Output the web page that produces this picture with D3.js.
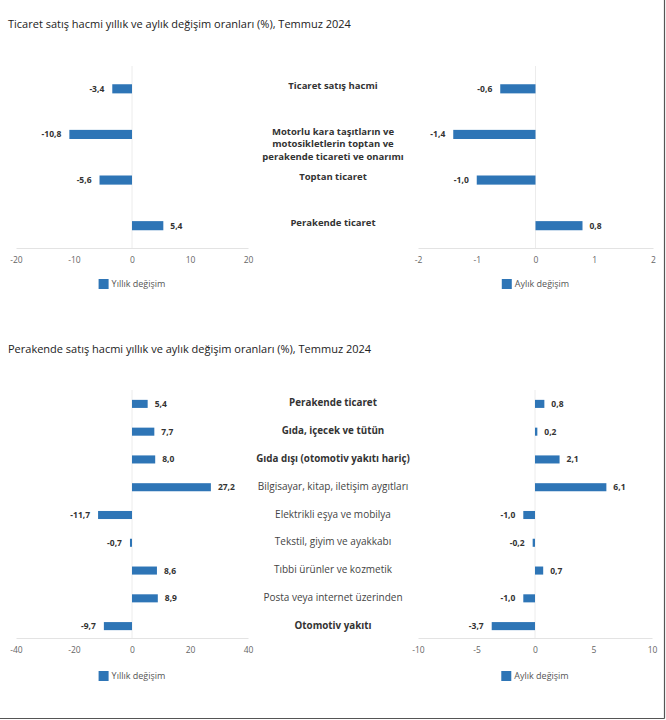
<!DOCTYPE html>
<html>
<head>
  <meta charset="utf-8">
  <title>Ticaret ve perakende satış hacmi</title>
  <script src="https://d3js.org/d3.v7.min.js"></script>
  <style>
    body { margin: 0; background: #fff; }
    svg { font-family: "Open Sans", "Noto Sans", sans-serif; display: block; }
  </style>
</head>
<body>
<div id="chart"></div>
<script>
// Chart data
var topTitle = "Ticaret satış hacmi yıllık ve aylık değişim oranları (%), Temmuz 2024";
var bottomTitle = "Perakende satış hacmi yıllık ve aylık değişim oranları (%), Temmuz 2024";

var topCategories = [
  "Ticaret satış hacmi",
  "Motorlu kara taşıtların ve|motosikletlerin toptan ve|perakende ticareti ve onarımı",
  "Toptan ticaret",
  "Perakende ticaret"
];
var topYearly = [-3.4, -10.8, -5.6, 5.4];
var topMonthly = [-0.6, -1.4, -1.0, 0.8];
var topYearlyTicks = [-20, -10, 0, 10, 20];
var topMonthlyTicks = [-2, -1, 0, 1, 2];

var bottomCategories = [
  "Perakende ticaret",
  "Gıda, içecek ve tütün",
  "Gıda dışı (otomotiv yakıtı hariç)",
  "Bilgisayar, kitap, iletişim aygıtları",
  "Elektrikli eşya ve mobilya",
  "Tekstil, giyim ve ayakkabı",
  "Tıbbi ürünler ve kozmetik",
  "Posta veya internet üzerinden",
  "Otomotiv yakıtı"
];
var bottomYearly = [5.4, 7.7, 8.0, 27.2, -11.7, -0.7, 8.6, 8.9, -9.7];
var bottomMonthly = [0.8, 0.2, 2.1, 6.1, -1.0, -0.2, 0.7, -1.0, -3.7];
var bottomYearlyTicks = [-40, -20, 0, 20, 40];
var bottomMonthlyTicks = [-10, -5, 0, 5, 10];
var bottomBoldCategories = ["Perakende ticaret", "Gıda, içecek ve tütün", "Gıda dışı (otomotiv yakıtı hariç)", "Otomotiv yakıtı"];

var legendYearly = "Yıllık değişim";
var legendMonthly = "Aylık değişim";

var barColor = "#2e75b6";
var fmt = function(v) { return d3.format(".1f")(v).replace(".", ",").replace("−", "-"); };

var width = 666, height = 720;
var svg = d3.select("#chart").append("svg")
  .attr("width", width)
  .attr("height", height);

// frame lines on the right and bottom edge
svg.append("line").attr("x1", 664.5).attr("x2", 664.5).attr("y1", 0).attr("y2", 718.5)
  .attr("stroke", "#555").attr("stroke-width", 1.2);
svg.append("line").attr("x1", 0).attr("x2", 664.5).attr("y1", 718.5).attr("y2", 718.5)
  .attr("stroke", "#555").attr("stroke-width", 1.2);

// titles
svg.append("text").attr("x", 8).attr("y", 28)
  .style("font-size", "11px").style("fill", "#222")
  .text(topTitle);
svg.append("text").attr("x", 8).attr("y", 353)
  .style("font-size", "11px").style("fill", "#222")
  .text(bottomTitle);

// one bar panel
function drawPanel(cats, values, ticks, xRange, y, axisY, legendText, legendY, fontSize) {
  var x = d3.scaleLinear()
    .domain([ticks[0], ticks[ticks.length - 1]])
    .range(xRange);

  var g = svg.append("g");

  // zero line
  g.append("line")
    .attr("x1", x(0)).attr("x2", x(0))
    .attr("y1", y.range()[0]).attr("y2", axisY)
    .attr("stroke", "#ececec");

  // axis
  var axis = d3.axisBottom(x).tickValues(ticks).tickSize(0).tickPadding(9)
    .tickFormat(function(d) { return String(d); });
  var ax = g.append("g")
    .attr("transform", "translate(0," + axisY + ")")
    .call(axis);
  ax.select(".domain").attr("stroke", "#e3e3e3");
  ax.selectAll("text").style("font-size", "8.5px").style("fill", "#666")
    .style("font-family", "'Open Sans', sans-serif");

  // bars
  g.selectAll("rect.bar")
    .data(values)
    .enter()
    .append("rect")
    .attr("class", "bar")
    .attr("x", function(d) { return x(Math.min(0, d)); })
    .attr("y", function(d, i) { return y(cats[i]); })
    .attr("width", function(d) { return Math.abs(x(d) - x(0)); })
    .attr("height", y.bandwidth())
    .attr("fill", barColor);

  // value labels
  g.selectAll("text.val")
    .data(values)
    .enter()
    .append("text")
    .attr("class", "val")
    .attr("x", function(d) { return d < 0 ? x(d) - 8 : x(d) + 7; })
    .attr("y", function(d, i) { return y(cats[i]) + y.bandwidth() / 2; })
    .attr("dy", "0.35em")
    .attr("text-anchor", function(d) { return d < 0 ? "end" : "start"; })
    .style("font-size", fontSize + "px")
    .style("font-weight", "bold")
    .style("fill", "#333")
    .text(fmt);

  // legend
  var lg = g.append("g");
  var lt = lg.append("text")
    .attr("x", 0).attr("y", legendY + 5).attr("dy", "0.35em")
    .style("font-size", "9px").style("fill", "#555")
    .text(legendText);
  var tw = lt.node().getComputedTextLength();
  var total = 10 + 3 + tw;
  var lx = x(0) - total / 2;
  lg.append("rect").attr("x", lx).attr("y", legendY).attr("width", 10).attr("height", 10)
    .attr("fill", barColor);
  lt.attr("x", lx + 13);
}

// top panels
var yTop = d3.scaleBand().domain(topCategories).range([66, 248.5])
  .paddingInner(0.8).paddingOuter(0.4);
drawPanel(topCategories, topYearly, topYearlyTicks, [16, 248], yTop, 248, legendYearly, 279, 8.5);
drawPanel(topCategories, topMonthly, topMonthlyTicks, [418, 653], yTop, 248, legendMonthly, 279, 8.5);

topCategories.forEach(function(c) {
  var lines = c.split("|");
  var t = svg.append("text")
    .attr("x", 333)
    .attr("text-anchor", "middle")
    .style("font-size", "9.5px").style("font-weight", "bold").style("fill", "#333");
  lines.forEach(function(l, j) {
    t.append("tspan").attr("x", 333)
      .attr("y", yTop(c) + yTop.bandwidth() / 2 - 3 + j * 12.5)
      .attr("dy", "0.35em")
      .text(l);
  });
});

// bottom panels
var yBottom = d3.scaleBand().domain(bottomCategories).range([390, 640])
  .paddingInner(0.71).paddingOuter(0.355);
drawPanel(bottomCategories, bottomYearly, bottomYearlyTicks, [16, 248], yBottom, 638, legendYearly, 671, 8.5);
drawPanel(bottomCategories, bottomMonthly, bottomMonthlyTicks, [418, 652], yBottom, 638, legendMonthly, 671, 8.5);

svg.selectAll("text.cat")
  .data(bottomCategories)
  .enter()
  .append("text")
  .attr("class", "cat")
  .attr("x", 333)
  .attr("y", function(d) { return yBottom(d) + yBottom.bandwidth() / 2 - 1; })
  .attr("dy", "0.35em")
  .attr("text-anchor", "middle")
  .style("font-size", function(d) { return bottomBoldCategories.indexOf(d) >= 0 ? "9.8px" : "10px"; })
  .style("font-weight", function(d) { return bottomBoldCategories.indexOf(d) >= 0 ? "bold" : "normal"; })
  .style("fill", function(d) { return bottomBoldCategories.indexOf(d) >= 0 ? "#333" : "#444"; })
  .text(function(d) { return d; });
</script>
</body>
</html>
